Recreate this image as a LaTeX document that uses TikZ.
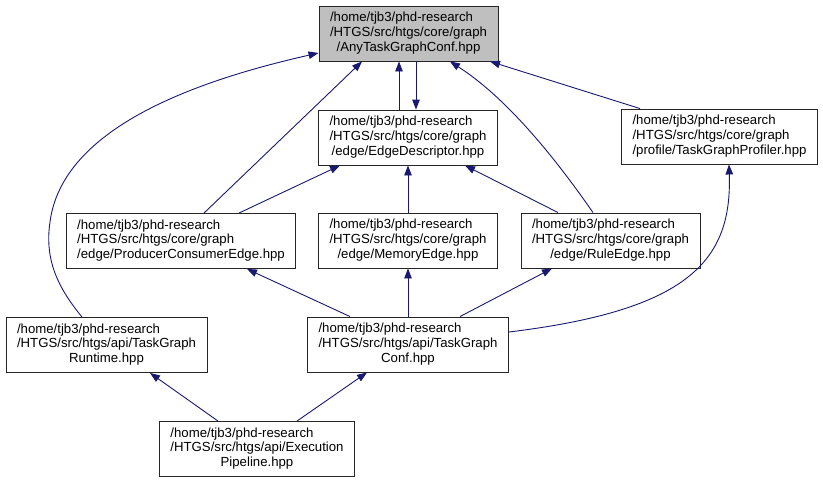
\documentclass[tikz,border=0pt]{standalone}
\usepackage{fontspec}
\setmainfont{Liberation Sans}
\usepackage{xcolor}
\usepackage{tikz}
\usetikzlibrary{positioning, arrows.meta}

\definecolor{edgeblue}{HTML}{191970}
\definecolor{rootgray}{HTML}{BFBFBF}

% three-line file label: first lines left, last line centred
\newcommand{\flabel}[3]{\begin{tabular}{@{}l@{}}#1\\#2\\\multicolumn{1}{@{}c@{}}{#3}\end{tabular}}

\begin{document}
\begin{tikzpicture}[
    x=1pt, y=-1pt,
    filebox/.style={rectangle, draw=black!85, line width=0.9pt, fill=white, inner xsep=11pt, inner ysep=0pt, minimum height=55pt, font=\fontsize{13.2}{14.7}\selectfont},
    rootbox/.style={filebox, fill=rootgray},
    incl/.style={draw=edgeblue, line width=0.9pt, -{Triangle[length=10pt, width=7.5pt]}}
]
\useasboundingbox (0,0) rectangle (823,483);

% Nodes
\node[rootbox] (any) at (408.5,33.5) {\flabel{/home/tjb3/phd-research}{/HTGS/src/htgs/core/graph}{/AnyTaskGraphConf.hpp}};
\node[filebox] (edesc) at (408,137.5) {\flabel{/home/tjb3/phd-research}{/HTGS/src/htgs/core/graph}{/edge/EdgeDescriptor.hpp}};
\node[filebox] (prof) at (719.5,136.5) {\flabel{/home/tjb3/phd-research}{/HTGS/src/htgs/core/graph}{/profile/TaskGraphProfiler.hpp}};
\node[filebox] (pce) at (181,241) {\flabel{/home/tjb3/phd-research}{/HTGS/src/htgs/core/graph}{/edge/ProducerConsumerEdge.hpp}};
\node[filebox] (mem) at (408,240.5) {\flabel{/home/tjb3/phd-research}{/HTGS/src/htgs/core/graph}{/edge/MemoryEdge.hpp}};
\node[filebox] (rule) at (610.5,240.5) {\flabel{/home/tjb3/phd-research}{/HTGS/src/htgs/core/graph}{/edge/RuleEdge.hpp}};
\node[filebox] (rt) at (106.5,345) {\flabel{/home/tjb3/phd-research}{/HTGS/src/htgs/api/TaskGraph}{Runtime.hpp}};
\node[filebox] (tgc) at (408,344.5) {\flabel{/home/tjb3/phd-research}{/HTGS/src/htgs/api/TaskGraph}{Conf.hpp}};
\node[filebox] (pipe) at (257,449) {\flabel{/home/tjb3/phd-research}{/HTGS/src/htgs/api/Execution}{Pipeline.hpp}};

% Edges into AnyTaskGraphConf
\draw[incl] ([xshift=-9pt]edesc.north) -- ([xshift=-9.5pt]any.south);
\draw[incl] ([xshift=7.5pt]any.south) -- ([xshift=8pt]edesc.north);
\draw[incl] ([xshift=23pt]pce.north) -- ([xshift=-46.5pt]any.south);
\draw[incl] ([xshift=-17.5pt]rule.north) .. controls (560,165) and (510,100) .. ([xshift=41.5pt]any.south);
\draw[incl] ([xshift=-79.5pt]prof.north) -- ([xshift=81.5pt]any.south);
\draw[incl] ([xshift=-24.5pt]rt.north) .. controls (60,290) and (44,262) .. (50,222)
    .. controls (62,130) and (190,82) .. ([yshift=-19.5pt]any.west);

% Edges into EdgeDescriptor
\draw[incl] ([xshift=58pt]pce.north) -- ([xshift=-68pt]edesc.south);
\draw[incl] (mem.north) -- (edesc.south);
\draw[incl] ([xshift=-52.5pt]rule.north) -- ([xshift=57pt]edesc.south);

% Edges from TaskGraphConf
\draw[incl] ([xshift=-58pt]tgc.north) -- ([xshift=66pt]pce.south);
\draw[incl] (tgc.north) -- (mem.south);
\draw[incl] ([xshift=52pt]tgc.north) -- ([xshift=-58.5pt]rule.south);
\draw[incl] ([yshift=12.5pt]tgc.east) .. controls (690,310) and (732,260) .. ([xshift=9.5pt]prof.south);

% Edges from ExecutionPipeline
\draw[incl] ([xshift=-39pt]pipe.north) -- ([xshift=43.5pt]rt.south);
\draw[incl] ([xshift=40pt]pipe.north) -- ([xshift=-41pt]tgc.south);

\end{tikzpicture}
\end{document}
